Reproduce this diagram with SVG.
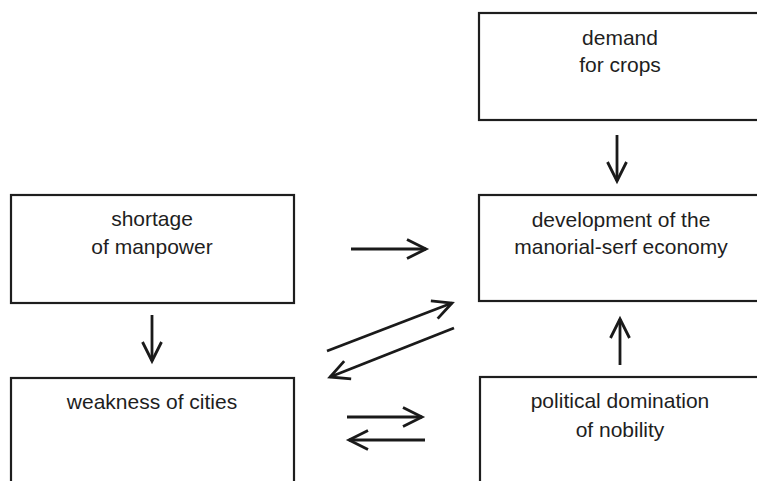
<svg xmlns="http://www.w3.org/2000/svg" width="757" height="481" viewBox="0 0 757 481">
<style>
.box{fill:#fff;stroke:#1e1e1e;stroke-width:2.2}
.t{font-family:"Liberation Sans",Arial,sans-serif;font-size:21px;fill:#1e1e1e;text-anchor:middle}
.c{fill:none;stroke:#1a1a1a;stroke-width:2.8}
</style>
<defs>
<marker id="ah" markerUnits="userSpaceOnUse" markerWidth="30" markerHeight="30" viewBox="-25 -15 30 30" refX="0" refY="0" orient="auto">
<path d="M-19,-9.5 L0,0 L-19,9.5" fill="none" stroke="#1a1a1a" stroke-width="2.8" stroke-linejoin="miter"/>
</marker>
</defs>
<rect width="757" height="481" fill="#fff"/>
<g id="demand">
<rect class="box" x="479" y="13" width="290" height="107"/>
<text class="t" x="620" y="45">demand</text>
<text class="t" x="620" y="72">for crops</text>
</g>
<g id="development">
<rect class="box" x="479" y="195" width="290" height="106"/>
<text class="t" x="621" y="227">development of the</text>
<text class="t" x="621" y="254">manorial-serf economy</text>
</g>
<g id="shortage">
<rect class="box" x="11" y="195" width="283" height="108"/>
<text class="t" x="152" y="226">shortage</text>
<text class="t" x="152" y="254">of manpower</text>
</g>
<g id="weakness">
<rect class="box" x="11" y="378" width="283" height="120"/>
<text class="t" x="152" y="409">weakness of cities</text>
</g>
<g id="political">
<rect class="box" x="480" y="377" width="290" height="120"/>
<text class="t" x="620" y="408">political domination</text>
<text class="t" x="620" y="437">of nobility</text>
</g>
<g id="connectors">
<path class="c" d="M617,135 L617,181" marker-end="url(#ah)"/>
<path class="c" d="M351,249 L426,249" marker-end="url(#ah)"/>
<path class="c" d="M152,315 L152,361" marker-end="url(#ah)"/>
<path class="c" d="M327,351 L452,303" marker-end="url(#ah)"/>
<path class="c" d="M454,328 L330,377" marker-end="url(#ah)"/>
<path class="c" d="M620,365 L620,319" marker-end="url(#ah)"/>
<path class="c" d="M347,417 L422,417" marker-end="url(#ah)"/>
<path class="c" d="M425,440 L349,440" marker-end="url(#ah)"/>
</g>
</svg>
